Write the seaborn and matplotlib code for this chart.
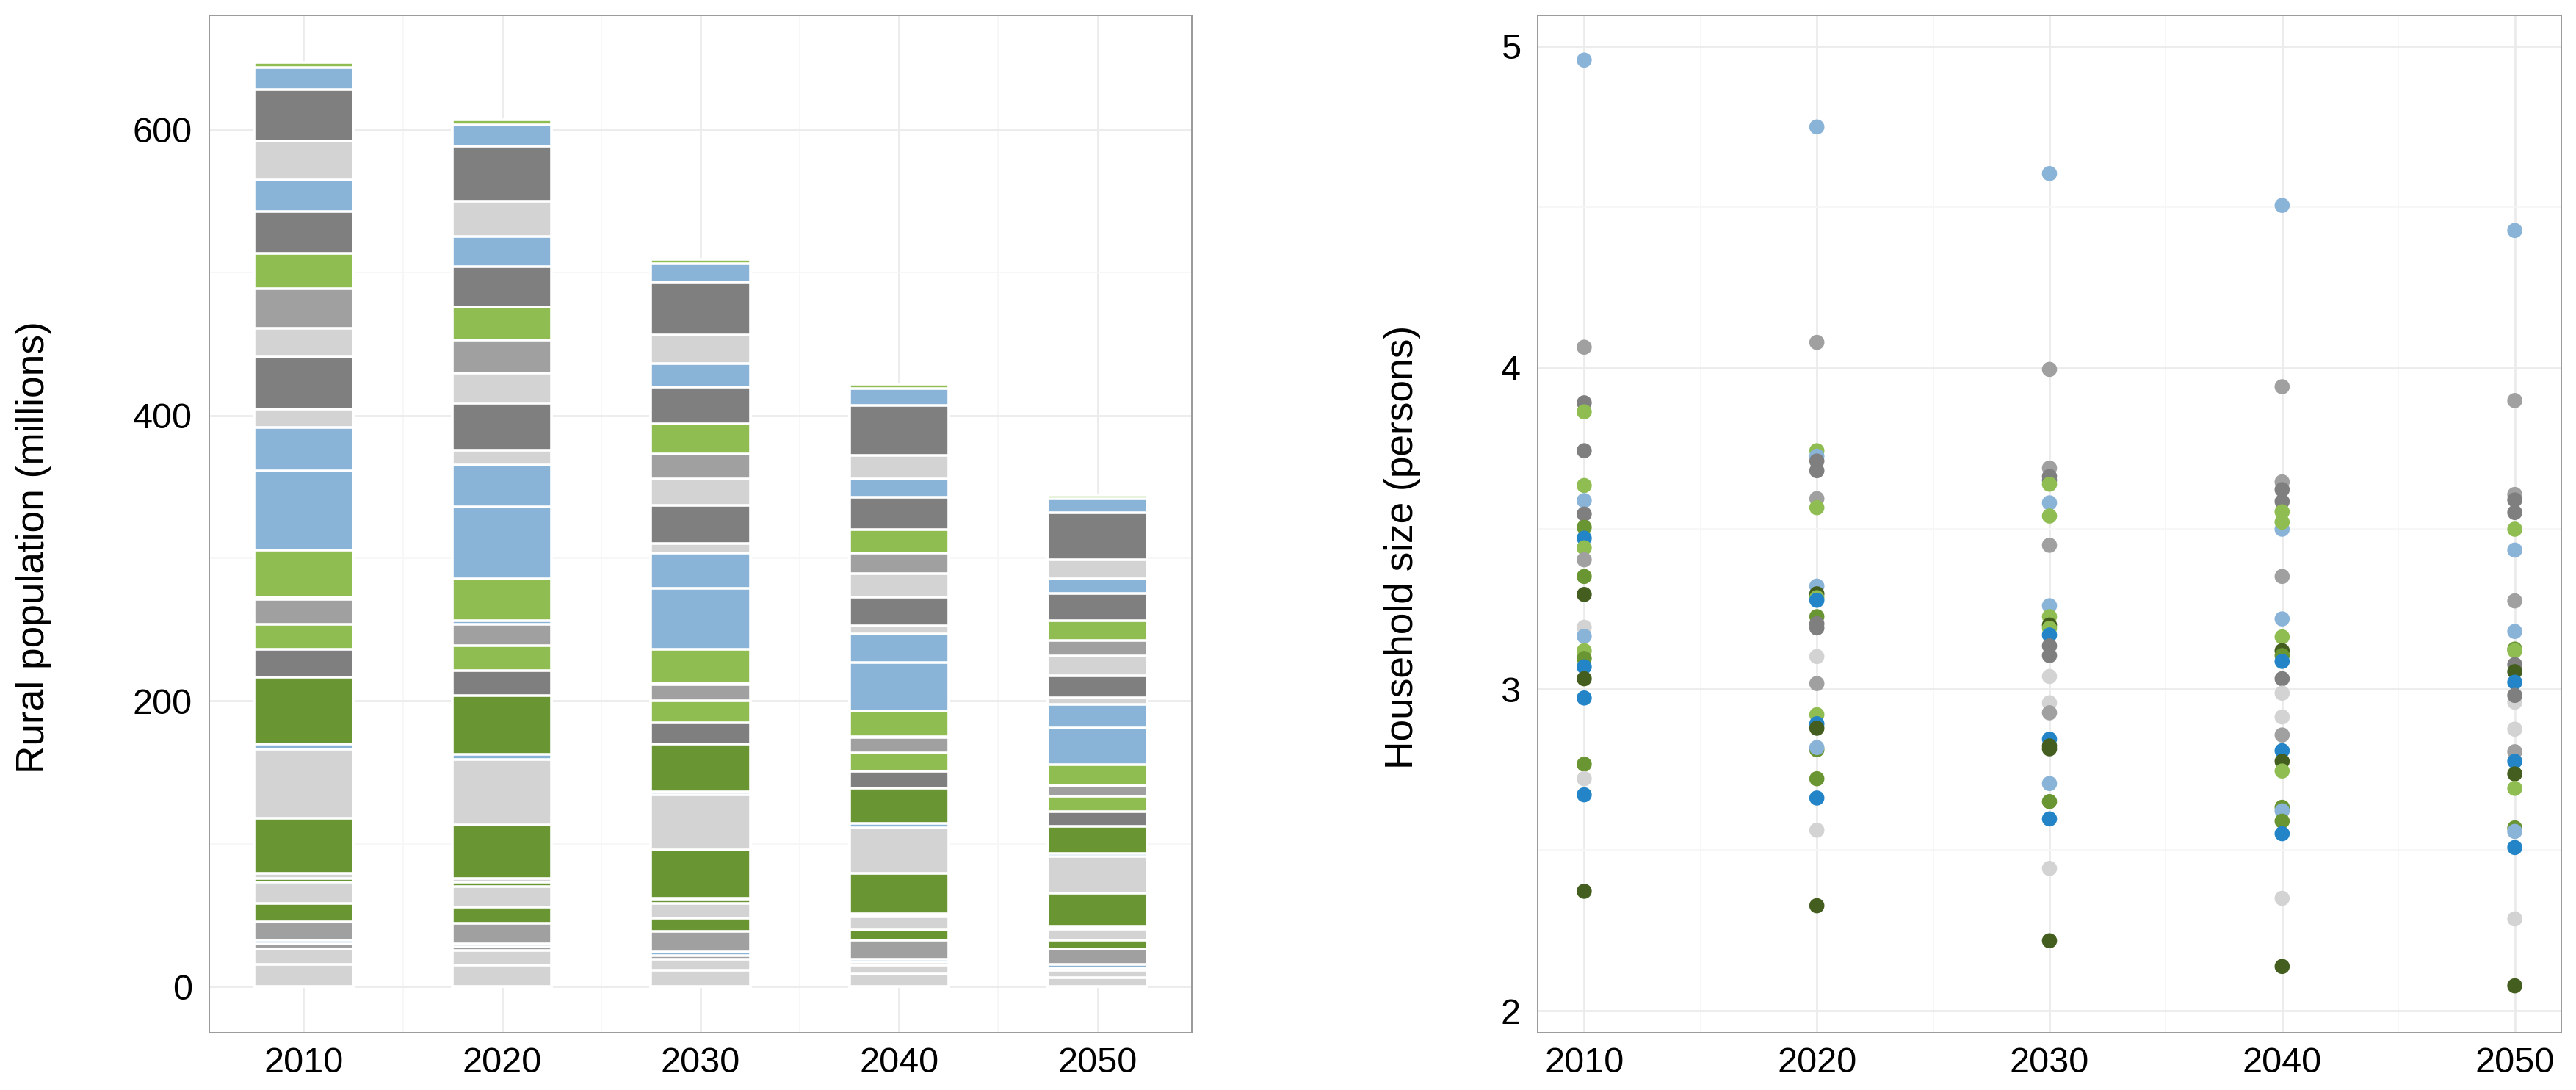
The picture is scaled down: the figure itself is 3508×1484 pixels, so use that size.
import pandas as pd
import matplotlib
matplotlib.use("Agg")
import matplotlib.pyplot as plt
import seaborn as sns
from matplotlib.ticker import MultipleLocator

years = [2010, 2020, 2030, 2040, 2050]

# colour group of each stacked segment, bottom to top
seg_group = ["LG", "LG", "MG", "BL", "MG", "DG", "LG", "DG", "LG", "DG",
             "LG", "BL", "DG", "DK", "GR", "MG", "BL", "GR", "BL", "BL",
             "LG", "DK", "LG", "MG", "GR", "DK", "BL", "LG", "DK", "BL", "GR"]

# rural population (millions) per segment, bottom to top
pop_2010 = [15.7, 10.7, 3.6, 2.5, 12.6, 12.9, 15.2, 2.4, 3.7, 38.5,
            48.2, 3.6, 46.9, 19.8, 17.6, 17.0, 1.8, 33.0, 55.7, 30.2,
            12.9, 36.4, 20.1, 27.9, 24.5, 29.4, 22.0, 27.3, 35.9, 15.5, 3.7]
pop_2020 = [14.7, 10.6, 2.3, 2.3, 14.2, 11.6, 14.1, 3.4, 2.6, 37.3,
            45.9, 3.4, 41.2, 17.5, 17.6, 15.2, 2.3, 29.4, 50.2, 29.3,
            10.6, 32.6, 21.1, 23.6, 22.9, 28.5, 21.1, 24.5, 38.5, 14.9, 3.7]
pop_2030 = [11.1, 8.2, 2.3, 2.4, 14.4, 9.3, 10.3, 2.6, 1.0, 34.0,
            38.7, 2.3, 33.2, 15.0, 15.5, 11.3, 1.0, 23.7, 42.3, 24.8,
            6.9, 26.6, 18.4, 17.9, 20.8, 26.0, 16.5, 19.9, 37.2, 12.8, 2.8]
pop_2040 = [9.0, 5.7, 2.3, 2.1, 13.1, 7.2, 9.3, 1.0, 1.1, 28.3,
            32.0, 3.3, 24.5, 11.9, 12.9, 10.8, 0.5, 18.0, 34.1, 20.1,
            5.6, 20.1, 16.5, 14.0, 16.4, 22.9, 12.6, 16.7, 35.1, 11.9, 2.8]
pop_2050 = [6.4, 4.7, 2.0, 2.6, 10.8, 5.7, 7.7, 1.1, 0.8, 23.4,
            25.8, 2.0, 19.1, 10.3, 10.8, 7.3, 0.5, 14.4, 25.8, 16.5,
            4.6, 15.5, 13.9, 10.8, 13.9, 18.6, 10.8, 12.9, 33.2, 9.6, 2.5]

# household size (persons) and colour group per point
hh_2010 = [4.957, 4.064, 3.891, 3.863, 3.742, 3.634, 3.587, 3.545, 3.504, 3.470,
           3.440, 3.403, 3.351, 3.295, 3.193, 3.165, 3.120, 3.096, 3.070, 3.033,
           2.973, 2.767, 2.722, 2.672, 2.372]
grp_2010 = ["LB", "MG", "DK", "GR", "DK", "GR", "LB", "DK", "DG", "DB",
            "GR", "MG", "DG", "VDG", "LG", "LB", "GR", "DG", "DB", "VDG",
            "DB", "DG", "LG", "DB", "VDG"]
hh_2020 = [4.749, 4.079, 3.742, 3.725, 3.710, 3.680, 3.593, 3.565, 3.321, 3.297,
           3.285, 3.277, 3.226, 3.204, 3.191, 3.102, 3.018, 2.921, 2.893, 2.879,
           2.812, 2.819, 2.722, 2.662, 2.562, 2.327]
grp_2020 = ["LB", "MG", "GR", "LB", "DK", "DK", "MG", "GR", "LB", "VDG",
            "GR", "DB", "DG", "DK", "DK", "LG", "MG", "GR", "DB", "VDG",
            "DG", "LB", "DG", "DB", "LG", "VDG"]
hh_2030 = [4.604, 3.995, 3.688, 3.662, 3.650, 3.638, 3.580, 3.539, 3.448, 3.260,
           3.226, 3.200, 3.190, 3.169, 3.135, 3.105, 3.040, 2.958, 2.927, 2.845,
           2.824, 2.815, 2.707, 2.651, 2.597, 2.443, 2.218]
grp_2030 = ["LB", "MG", "MG", "DK", "DK", "GR", "LB", "GR", "MG", "LB",
            "GR", "VDG", "GR", "DB", "DK", "DK", "LG", "LG", "MG", "DB",
            "VDG", "VDG", "LB", "DG", "DB", "LG", "VDG"]
hh_2040 = [4.505, 3.941, 3.645, 3.621, 3.584, 3.552, 3.498, 3.520, 3.351, 3.219,
           3.163, 3.120, 3.105, 3.087, 3.033, 2.988, 2.914, 2.858, 2.809, 2.776,
           2.746, 2.633, 2.622, 2.590, 2.551, 2.350, 2.138]
grp_2040 = ["LB", "MG", "MG", "DK", "DK", "GR", "LB", "GR", "MG", "LB",
            "GR", "VDG", "DG", "DB", "DK", "LG", "LG", "MG", "DB", "VDG",
            "GR", "DG", "LB", "DG", "DB", "LG", "VDG"]
hh_2050 = [4.427, 3.898, 3.606, 3.589, 3.550, 3.498, 3.433, 3.275, 3.180, 3.125,
           3.120, 3.077, 3.055, 3.022, 2.960, 2.981, 2.876, 2.806, 2.776, 2.737,
           2.692, 2.569, 2.558, 2.508, 2.286, 2.078]
grp_2050 = ["LB", "MG", "MG", "DK", "DK", "GR", "LB", "MG", "LB", "DG",
            "GR", "DK", "VDG", "DB", "LG", "DK", "LG", "MG", "DB", "VDG",
            "GR", "DG", "LB", "DB", "LG", "VDG"]

colours = {"LG": "#D3D3D3", "MG": "#A0A0A0", "DK": "#7F7F7F",
           "GR": "#8FBD52", "DG": "#6A9533", "BL": "#8AB3D8",
           "LB": "#8AB3D8", "DB": "#2385C7", "VDG": "#445E1F"}

# build tables
pop = [pop_2010, pop_2020, pop_2030, pop_2040, pop_2050]
rows = []
for yr, vals in zip(years, pop):
    total = 0
    for i, v in enumerate(vals):
        total += v
        rows.append({"year": yr, "seg": f"s{i:02d}", "top": total})
bars = pd.DataFrame(rows)

hh = [hh_2010, hh_2020, hh_2030, hh_2040, hh_2050]
grp = [grp_2010, grp_2020, grp_2030, grp_2040, grp_2050]
pts = pd.concat([pd.DataFrame({"year": yr, "size": h, "grp": g})
                 for yr, h, g in zip(years, hh, grp)], ignore_index=True)
pts["id"] = range(len(pts))

sns.set_style("whitegrid")
plt.rcParams["font.family"] = ["Liberation Sans", "DejaVu Sans"]

W, H = 3508, 1484
fig = plt.figure(figsize=(W / 200, H / 200), dpi=200)
ax1 = fig.add_axes([285 / W, 1 - 1406 / H, (1623 - 285) / W, (1406 - 20.5) / H])
ax2 = fig.add_axes([2094 / W, 1 - 1406 / H, (3488 - 2094) / W, (1406 - 20.5) / H])

# stacked bars: draw cumulative tops from the top segment down
order = [f"s{i:02d}" for i in range(len(seg_group))][::-1]
pal = [colours[seg_group[int(s[1:])]] for s in order]
sns.barplot(data=bars, x="year", y="top", hue="seg", hue_order=order,
            palette=pal, dodge=False, native_scale=True, width=0.5,
            errorbar=None, edgecolor="white", linewidth=1.3,
            saturation=1, legend=False, ax=ax1)

# household size points, one hue per point to keep drawing order
sns.scatterplot(data=pts, x="year", y="size", hue="id",
                palette=[colours[g] for g in pts["grp"]],
                s=55, linewidth=0, legend=False, ax=ax2)

ax1.set_xlim(2005.25, 2054.75)
ax1.set_ylim(-32.4, 680.4)
ax1.yaxis.set_major_locator(MultipleLocator(200))
ax1.yaxis.set_minor_locator(MultipleLocator(100))
ax2.set_xlim(2008, 2052)
ax2.set_ylim(1.932, 5.097)
ax2.yaxis.set_major_locator(MultipleLocator(1))
ax2.yaxis.set_minor_locator(MultipleLocator(0.5))

for ax in (ax1, ax2):
    ax.set_xticks(years)
    ax.set_xticklabels([str(y) for y in years])
    ax.set_xticks([2015, 2025, 2035, 2045], minor=True)
    ax.set_axisbelow(True)
    ax.grid(which="major", color="#EBEBEB", linewidth=1.0)
    ax.grid(which="minor", color="#F6F6F6", linewidth=0.6)
    for sp in ax.spines.values():
        sp.set_visible(True)
        sp.set_color("#9A9A9A")
        sp.set_linewidth(0.7)
    ax.tick_params(which="major", direction="out", length=5.4, width=1.2,
                   color="black", labelcolor="black", labelsize=17.5)
    ax.tick_params(axis="x", pad=1.5)
    ax.tick_params(axis="y", pad=3.0)
    ax.tick_params(which="minor", length=0)
    ax.set_xlabel("")

ax1.set_ylabel("Rural population (millions)", fontsize=19.2, color="black")
ax2.set_ylabel("Household size (persons)", fontsize=19.2, color="black")
ax1.yaxis.set_label_coords(-0.160, 0.477)
ax2.yaxis.set_label_coords(-0.114, 0.477)

fig.savefig("out.png", dpi=200)
